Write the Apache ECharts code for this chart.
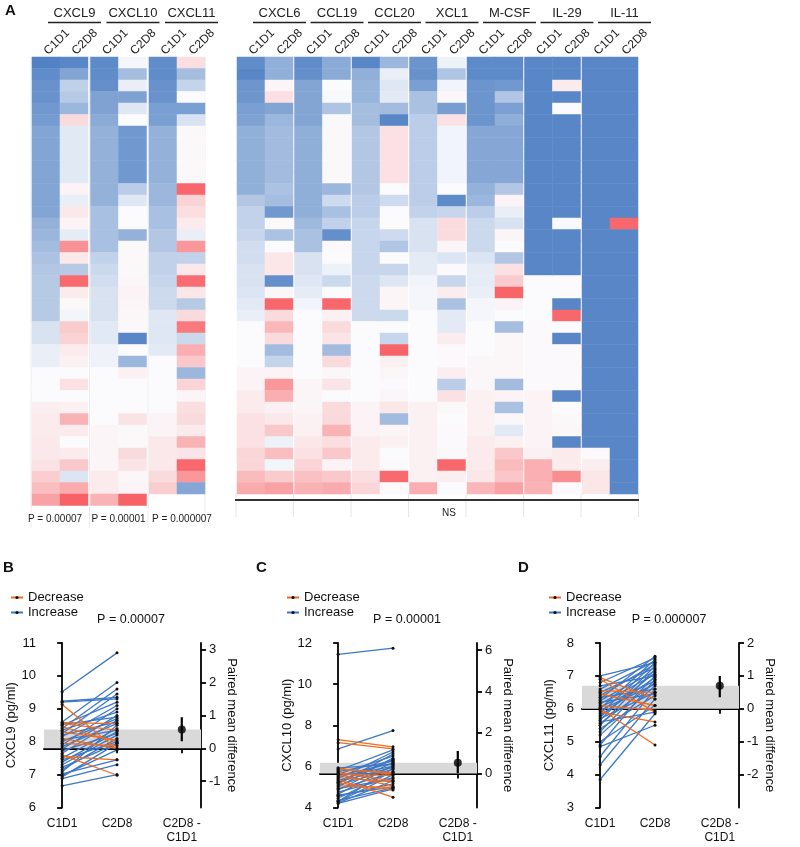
<!DOCTYPE html>
<html><head><meta charset="utf-8">
<script src="https://cdn.jsdelivr.net/npm/echarts@6/dist/echarts.min.js"></script>
<style>html,body{margin:0;padding:0;background:#fff}#c{width:800px;height:847px}</style>
</head><body><div id="c"></div>
<script>
// ---------------- DATA ----------------
const cytokines = ['CXCL9','CXCL10','CXCL11','CXCL6','CCL19','CCL20','XCL1','M-CSF','IL-29','IL-11'];
const timepoints = ['C1D1','C2D8'];
// heatmap relative levels (-1 = low/blue, +1 = high/red), rows ordered as in the figure
const cxcl9_C1D1 = [-0.98,-0.9,-0.85,-0.85,-0.8,-0.78,-0.7,-0.7,-0.7,-0.7,-0.7,-0.7,-0.7,-0.7,-0.6,-0.56,-0.52,-0.46,-0.42,-0.4,-0.4,-0.4,-0.4,-0.2,-0.2,-0.1,-0.1,0,0,0,0.08,0.1,0.1,0.12,0.12,0.15,0.28,0.38,0.55];
const cxcl9_C2D8 = [-0.95,-0.7,-0.35,-0.4,-0.55,0.2,-0.15,-0.15,-0.15,-0.15,-0.15,0.05,-0.1,0.12,0.05,-0.12,0.65,0.12,-0.4,0.9,0.1,0.02,-0.05,0.3,0.25,0.1,0.06,0,0.16,0,0.06,0.45,0.1,0,0.1,0.32,-0.18,0.5,0.95];
const cxcl10_C1D1 = [-0.92,-0.9,-0.88,-0.72,-0.72,-0.65,-0.6,-0.6,-0.6,-0.6,-0.6,-0.6,-0.6,-0.48,-0.48,-0.48,-0.48,-0.33,-0.28,-0.24,-0.2,-0.2,-0.2,-0.15,-0.15,-0.07,-0.07,0,0,0,0,0,0.04,0.04,0.04,0.04,0.1,0.1,0.45];
const cxcl10_C2D8 = [-0.04,-0.5,-0.1,-0.72,-0.16,0,-0.8,-0.8,-0.8,-0.8,-0.8,-0.38,-0.16,0,0,-0.6,0.02,0.02,0.02,0.03,0.05,0.04,0.03,0.02,-0.95,0,-0.55,0.06,0,0,0,0.15,0.02,0.02,0.2,0.14,0.03,0.05,0.95];
const cxcl11_C1D1 = [-0.9,-0.9,-0.85,-0.85,-0.75,-0.75,-0.6,-0.6,-0.6,-0.6,-0.6,-0.55,-0.55,-0.48,-0.48,-0.42,-0.42,-0.34,-0.34,-0.3,-0.27,-0.27,-0.16,-0.16,-0.16,-0.14,0,0,0,0,0,0.05,0.05,0.12,0.12,0.12,0.2,0.28];
const cxcl11_C2D8 = [0.18,-0.5,-0.32,0,-0.75,-0.2,0.02,0.02,0.02,0.02,0.02,0.92,0.25,0.18,0.1,-0.1,0.62,-0.33,0.12,0.88,0.13,-0.4,0.2,0.8,-0.28,0.48,0.32,-0.55,0.24,0.04,0.18,0.2,0.1,0.45,0.14,0.92,0.62,-0.68];
const cxcl6_C1D1 = [-0.9,-0.95,-0.82,-0.82,-0.75,-0.72,-0.62,-0.62,-0.62,-0.62,-0.62,-0.62,-0.42,-0.33,-0.33,-0.3,-0.24,-0.24,-0.2,-0.2,-0.18,-0.14,-0.1,0,0,0,0,0.05,0.05,0.1,0.1,0.16,0.16,0.16,0.23,0.23,0.4,0.5];
const cxcl6_C2D8 = [-0.62,-0.62,0.04,0.17,-0.7,-0.55,-0.52,-0.52,-0.52,-0.52,-0.52,-0.46,-0.5,-0.8,0.01,-0.46,0,0.13,0.13,-0.88,0.03,0.92,0.2,0.42,0.2,-0.52,-0.32,0.05,0.62,0.48,0.06,0.12,0.32,-0.08,0.38,-0.05,0.3,0.55];
const ccl19_C1D1 = [-0.9,-0.88,-0.7,-0.7,-0.7,-0.7,-0.63,-0.63,-0.63,-0.63,-0.63,-0.63,-0.63,-0.63,-0.54,-0.47,-0.47,-0.2,-0.2,-0.16,-0.12,-0.06,0,0,0,0,0,0,0.04,0.04,0.04,0.06,0.06,0.13,0.16,0.24,0.36,0.45];
const ccl19_C2D8 = [-0.65,-0.65,0,-0.02,-0.45,0.02,0.02,0.02,0.02,0.02,0.02,-0.55,-0.26,-0.48,-0.34,-0.88,0.01,0,-0.08,-0.28,0,0.92,0.06,0.2,0.14,-0.52,0.2,0.03,0.14,0,0.2,0.21,0.45,0.18,0.32,0.05,0.32,0.5];
const ccl20_C1D1 = [-0.95,-0.62,-0.58,-0.58,-0.5,-0.5,-0.42,-0.42,-0.42,-0.42,-0.42,-0.42,-0.37,-0.37,-0.3,-0.3,-0.3,-0.3,-0.3,-0.27,-0.27,-0.27,-0.27,0,0,0,0,0,0,0,0.05,0.05,0.05,0.1,0.1,0.1,0.18,0.23];
const ccl20_C2D8 = [-0.55,-0.1,-0.16,-0.14,-0.52,-0.95,0.16,0.16,0.16,0.16,0.16,0,-0.26,0,0,-0.26,-0.43,0,-0.3,-0.17,0.04,0.04,-0.28,0,-0.3,0.93,0.06,0.03,0.01,0.03,0.13,-0.52,0.04,0.06,0,0.01,0.9,0.01];
const xcl1_C1D1 = [-0.84,-0.86,-0.75,-0.47,-0.47,-0.37,-0.37,-0.37,-0.37,-0.37,-0.37,-0.37,-0.37,-0.33,-0.2,-0.2,-0.2,-0.13,-0.13,-0.06,-0.04,-0.04,0,0,0,0,0,0,0,0,0.06,0.06,0.06,0.06,0.06,0.06,0.06,0.48];
const xcl1_C2D8 = [-0.08,-0.44,-0.06,0.03,-0.76,0.16,-0.06,-0.06,-0.06,-0.06,-0.06,0,-0.92,-0.3,0.19,0.19,0.04,-0.18,0.01,-0.3,0.09,-0.47,-0.14,-0.14,0.09,0.01,0.01,0.08,-0.37,0.16,0.02,0,0.01,0.01,0.02,0.92,0.08,0];
const mcsf_C1D1 = [-0.92,-0.92,-0.83,-0.83,-0.83,-0.83,-0.68,-0.68,-0.68,-0.68,-0.68,-0.6,-0.55,-0.37,-0.28,-0.28,-0.28,-0.18,-0.12,-0.12,-0.1,-0.04,-0.04,0,0,0,0.03,0.03,0.03,0.06,0.06,0.06,0.06,0.1,0.1,0.1,0.13,0.42];
const mcsf_C2D8 = [-0.92,-0.92,-0.8,-0.43,-0.74,-0.63,-0.68,-0.68,-0.68,-0.68,-0.68,-0.42,0.05,-0.1,-0.2,0.04,0,-0.42,0.16,0.3,0.93,0.05,0,-0.5,0.03,0.03,0.03,0.03,-0.52,0.05,-0.47,0.03,-0.15,0.06,0.32,0.4,0.33,0.55];
const il29_C1D1 = [-0.95,-0.95,-0.95,-0.95,-0.95,-0.95,-0.95,-0.95,-0.95,-0.95,-0.95,-0.95,-0.95,-0.95,-0.95,-0.95,-0.95,-0.95,-0.95,0,0,0,0,0.01,0.01,0.01,0.01,0.01,0.01,0.05,0.05,0.05,0.05,0.05,0.07,0.47,0.47,0.45];
const il29_C2D8 = [-0.95,-0.95,0.1,-0.95,0,-0.95,-0.95,-0.95,-0.95,-0.95,-0.95,-0.95,-0.95,-0.95,-0.02,-0.95,-0.95,-0.95,-0.95,0,0,-0.95,0.92,0,-0.95,0.01,0.01,0.01,0.01,-0.95,0,0.02,0.03,-0.95,0.1,0.1,0.68,0.01];
const il11_C1D1 = [-0.95,-0.95,-0.95,-0.95,-0.95,-0.95,-0.95,-0.95,-0.95,-0.95,-0.95,-0.95,-0.95,-0.95,-0.95,-0.95,-0.95,-0.95,-0.95,-0.95,-0.95,-0.95,-0.95,-0.95,-0.95,-0.95,-0.95,-0.95,-0.95,-0.95,-0.95,-0.95,-0.95,-0.95,0.01,0.08,0.13,0.13];
const il11_C2D8 = [-0.95,-0.95,-0.95,-0.95,-0.95,-0.95,-0.95,-0.95,-0.95,-0.95,-0.95,-0.95,-0.95,-0.95,0.92,-0.95,-0.95,-0.95,-0.95,-0.95,-0.95,-0.95,-0.95,-0.95,-0.95,-0.95,-0.95,-0.95,-0.95,-0.95,-0.95,-0.95,-0.95,-0.95,-0.95,-0.95,-0.95,-0.95];
const heatPValues = ['P = 0.00007','P = 0.00001','P = 0.000007'];
const rightGroupNote = 'NS';

// paired plots
const cxcl9_pair_C1D1 = [6.66,6.88,6.93,6.97,7.02,7.08,7.15,7.22,7.30,7.38,7.45,7.50,7.55,7.60,7.65,7.72,7.78,7.85,7.90,7.95,8.00,8.05,8.10,8.15,8.20,8.25,8.30,8.35,8.40,8.45,8.50,8.52,8.55,8.58,8.60,9.13,9.20,9.23,9.52];
const cxcl9_pair_C2D8 = [7.00,7.30,7.95,7.75,7.45,8.50,8.10,7.95,8.20,8.30,8.00,8.40,7.45,6.98,8.65,8.25,8.80,8.55,9.00,7.88,8.70,8.35,7.80,9.10,8.60,9.45,8.05,8.90,9.60,8.00,9.20,8.75,8.35,8.55,9.80,7.76,9.30,9.35,10.70];
const cxcl10_pair_C1D1 = [4.20,4.22,4.28,4.30,4.35,4.45,4.55,4.60,4.65,4.75,4.85,4.90,4.92,5.00,5.05,5.10,5.15,5.20,5.22,5.25,5.30,5.35,5.40,5.45,5.50,5.55,5.60,5.62,5.65,5.70,5.75,5.80,5.85,5.90,5.93,6.85,7.15,7.30,11.45];
const cxcl10_pair_C2D8 = [4.90,5.30,5.60,5.90,4.95,5.75,5.15,5.00,6.05,5.45,6.20,5.70,5.40,6.40,4.98,5.85,6.60,4.85,6.35,5.95,6.30,4.50,6.70,5.25,6.00,6.15,5.05,6.50,5.55,5.30,6.25,6.80,5.70,5.62,6.10,7.74,6.85,6.95,11.75];
const cxcl11_pair_C1D1 = [3.85,4.30,4.55,4.85,4.90,5.00,5.20,5.30,5.40,5.50,5.55,5.60,5.65,5.70,5.75,5.80,5.85,5.90,5.95,6.00,6.00,6.05,6.10,6.15,6.20,6.25,6.30,6.35,6.40,6.45,6.50,6.55,6.60,6.70,6.80,6.90,6.95,7.00];
const cxcl11_pair_C2D8 = [5.85,6.30,6.60,5.50,6.90,6.10,6.70,7.00,6.40,7.20,6.80,5.90,7.30,6.50,7.10,6.95,7.40,5.60,6.75,4.90,7.50,6.85,5.95,7.05,6.45,7.15,7.60,6.60,7.35,6.10,7.25,6.50,7.45,7.00,7.55,5.90,6.30,7.40];
const pairP = ['P = 0.00007','P = 0.00001','P = 0.000007'];
const pairYNames = ['CXCL9 (pg/ml)','CXCL10 (pg/ml)','CXCL11 (pg/ml)'];
const meanDiff = [0.57, 0.53, 0.70];
const meanDiffCI = [[0.21, 0.94], [0.02, 1.10], [0.35, 1.00]];
const c1d1Mean = [7.80, 5.65, 6.00];      // left-axis value aligned with 0 on the difference axis
const leftRange = [[6, 11, 1], [4, 12, 2], [3, 8, 1]];
const rightTicks = [[-1,0,1,2,3],[0,2,4,6],[-2,-1,0,1,2]];
const legendNames = ['Decrease','Increase'];
const xTickLabels = ['C1D1','C2D8','C2D8 -\nC1D1'];

// ---------------- LAYOUT / STYLE ----------------
const FONT = '"Liberation Sans", Arial, Helvetica, sans-serif';
const colLeft = [32, 90.5, 149, 237, 294.5, 352, 409.5, 467, 524.5, 582];
const colW = 56, heatTop = 57, rowH = 11.5;
const panelLeft = [44, 320, 582], panelW = 157, panelTop = 643, panelH = 164.5;
const xPos = [0, 1, 2.18];
const BLUE = '#3c78c6', ORANGE = '#f06b1f';

const heatCols = [
  [cxcl9_C1D1, cxcl9_C2D8],[cxcl10_C1D1, cxcl10_C2D8],[cxcl11_C1D1, cxcl11_C2D8],
  [cxcl6_C1D1, cxcl6_C2D8],[ccl19_C1D1, ccl19_C2D8],[ccl20_C1D1, ccl20_C2D8],
  [xcl1_C1D1, xcl1_C2D8],[mcsf_C1D1, mcsf_C2D8],[il29_C1D1, il29_C2D8],[il11_C1D1, il11_C2D8]
];
const pairs = [[cxcl9_pair_C1D1,cxcl9_pair_C2D8],[cxcl10_pair_C1D1,cxcl10_pair_C2D8],[cxcl11_pair_C1D1,cxcl11_pair_C2D8]];

const grids = [], xAxes = [], yAxes = [], series = [], graphics = [], legends = [];

heatCols.forEach((cols, k) => {
  const nRows = k < 3 ? 39 : 38;
  const rows = []; for (let i = 0; i < nRows; i++) rows.push(String(i));
  grids.push({left: colLeft[k], top: heatTop, width: colW, height: nRows * rowH});
  xAxes.push({type: 'category', gridIndex: k, data: timepoints, position: 'top',
    axisLine: {show: false}, axisTick: {show: false},
    axisLabel: {rotate: -45, fontSize: 12, color: '#222', margin: 4, fontFamily: FONT}});
  yAxes.push({type: 'category', gridIndex: k, data: rows, inverse: true, show: false});
  const data = [];
  cols.forEach((arr, t) => arr.forEach((v, i) => data.push([t, i, v])));
  series.push({type: 'heatmap', xAxisIndex: k, yAxisIndex: k, data: data, silent: true,
    itemStyle: {borderWidth: 0}, emphasis: {disabled: true}});
  // header: name + underline
  const x0 = colLeft[k] + 16, x1 = colLeft[k] + 69;
  graphics.push({type: 'text', x: (x0 + x1) / 2, y: 13, style: {text: cytokines[k], align: 'center', verticalAlign: 'middle', fontSize: 13, fontFamily: FONT, fill: '#222'}});
  graphics.push({type: 'line', shape: {x1: x0, y1: 22.5, x2: x1, y2: 22.5}, style: {stroke: '#222', lineWidth: 1.5}});
});

// separators under heatmaps
[31, 89.5, 148, 205].forEach(x => graphics.push({type: 'line', z: -1, shape: {x1: x, y1: 57, x2: x, y2: 528}, style: {stroke: '#ececec', lineWidth: 1}}));
[236, 293.5, 351, 408.5, 466, 523.5, 581, 638.5].forEach(x => graphics.push({type: 'line', z: -1, shape: {x1: x, y1: 493, x2: x, y2: 517}, style: {stroke: '#e6e6e6', lineWidth: 1}}));
graphics.push({type: 'line', shape: {x1: 235, y1: 500, x2: 639, y2: 500}, style: {stroke: '#333', lineWidth: 2}});
graphics.push({type: 'text', x: 449, y: 513, style: {text: rightGroupNote, align: 'center', verticalAlign: 'middle', fontSize: 10, fontFamily: FONT, fill: '#222'}});
[55, 118.5, 182].forEach((x, i) => graphics.push({type: 'text', x: x, y: 519, style: {text: heatPValues[i], align: 'center', verticalAlign: 'middle', fontSize: 10, fontFamily: FONT, fill: '#222'}}));
// panel letters
[['A', 5, 11], ['B', 3, 568], ['C', 256, 568], ['D', 518, 568]].forEach(p => graphics.push({type: 'text', x: p[1], y: p[2], style: {text: p[0], verticalAlign: 'middle', fontSize: 15, fontWeight: 'bold', fontFamily: FONT, fill: '#111'}}));

// paired panels
const axisLineStyle = {show: true, lineStyle: {color: '#000', width: 1.8}};
const axisTickStyle = {show: true, length: 5, lineStyle: {color: '#000', width: 1.8}};
pairs.forEach((pp, p) => {
  const g = 10 + p;
  const yl = 10 + p, yr = 13 + p;
  grids.push({left: panelLeft[p], top: panelTop, width: panelW, height: panelH});
  xAxes.push({type: 'value', gridIndex: g, min: -0.33, max: 2.53,
    axisLine: axisLineStyle, axisTick: Object.assign({customValues: xPos}, axisTickStyle),
    splitLine: {show: false},
    axisLabel: {customValues: xPos, fontSize: 12, lineHeight: 14, margin: 9, color: '#111', fontFamily: FONT,
      formatter: v => xTickLabels[v < 0.5 ? 0 : (v < 1.5 ? 1 : 2)]}});
  const [lo, hi, iv] = leftRange[p];
  yAxes[yl] = {type: 'value', gridIndex: g, position: 'left', min: lo, max: hi, interval: iv,
    axisLine: axisLineStyle, axisTick: axisTickStyle, splitLine: {show: false},
    axisLabel: {fontSize: 13, color: '#111', margin: 8, fontFamily: FONT},
    name: pairYNames[p], nameLocation: 'middle', nameGap: 26,
    nameTextStyle: {fontSize: 13, color: '#111', fontFamily: FONT}};
  yAxes[yr] = {type: 'value', gridIndex: g, position: 'right', min: lo - c1d1Mean[p], max: hi - c1d1Mean[p],
    axisLine: axisLineStyle, axisTick: Object.assign({customValues: rightTicks[p]}, axisTickStyle),
    splitLine: {show: false},
    axisLabel: {customValues: rightTicks[p], fontSize: 13, color: '#111', margin: 8, fontFamily: FONT},
    name: 'Paired mean difference', nameLocation: 'middle', nameRotate: -90, nameGap: 24,
    nameTextStyle: {fontSize: 13, color: '#111', fontFamily: FONT}};
  // band
  series.push({type: 'line', xAxisIndex: g, yAxisIndex: yr, data: [], z: 1, silent: true,
    markArea: {silent: true, itemStyle: {color: '#d9d9d9'}, data: [[{yAxis: 0}, {yAxis: meanDiff[p]}]]}});
  // pairs
  pp[0].forEach((a, i) => {
    const b = pp[1][i];
    const dec = b < a;
    series.push({type: 'line', name: dec ? 'Decrease' : 'Increase', xAxisIndex: g, yAxisIndex: yl,
      data: [[0, a], [1, b]], symbol: 'circle', symbolSize: 3, showSymbol: true, z: 3, silent: true,
      itemStyle: {color: '#111'}, lineStyle: {color: dec ? ORANGE : BLUE, width: 1.3}});
  });
  // CI + mean diff
  series.push({type: 'line', xAxisIndex: g, yAxisIndex: yr, data: [[xPos[2], meanDiffCI[p][0]], [xPos[2], meanDiffCI[p][1]]],
    symbol: 'none', z: 4, silent: true, lineStyle: {color: '#000', width: 2.2}});
  series.push({type: 'scatter', xAxisIndex: g, yAxisIndex: yr, data: [[xPos[2], meanDiff[p]]],
    symbolSize: 8, z: 5, silent: true, itemStyle: {color: '#000'}});
  legends.push({data: legendNames, left: panelLeft[p] - 39, top: 586, orient: 'vertical', itemGap: 2,
    itemWidth: 12, itemHeight: 4, textStyle: {fontSize: 13, color: '#111', fontFamily: FONT},
    selectedMode: false});
  graphics.push({type: 'text', x: panelLeft[p] + 87, y: 620, style: {text: pairP[p], align: 'center', verticalAlign: 'middle', fontSize: 12.5, fontFamily: FONT, fill: '#111'}});
});

const chart = echarts.init(document.getElementById('c'), null, {renderer: 'canvas'});
chart.setOption({
  animation: false,
  backgroundColor: '#fff',
  textStyle: {fontFamily: FONT},
  grid: grids, xAxis: xAxes, yAxis: yAxes,
  visualMap: {type: 'continuous', min: -1, max: 1, show: false, seriesIndex: [0,1,2,3,4,5,6,7,8,9],
    inRange: {color: ['#4f80c3', '#fbfbfd', '#f85a5e']}},
  legend: legends,
  series: series,
  graphic: graphics
});
</script></body></html>
